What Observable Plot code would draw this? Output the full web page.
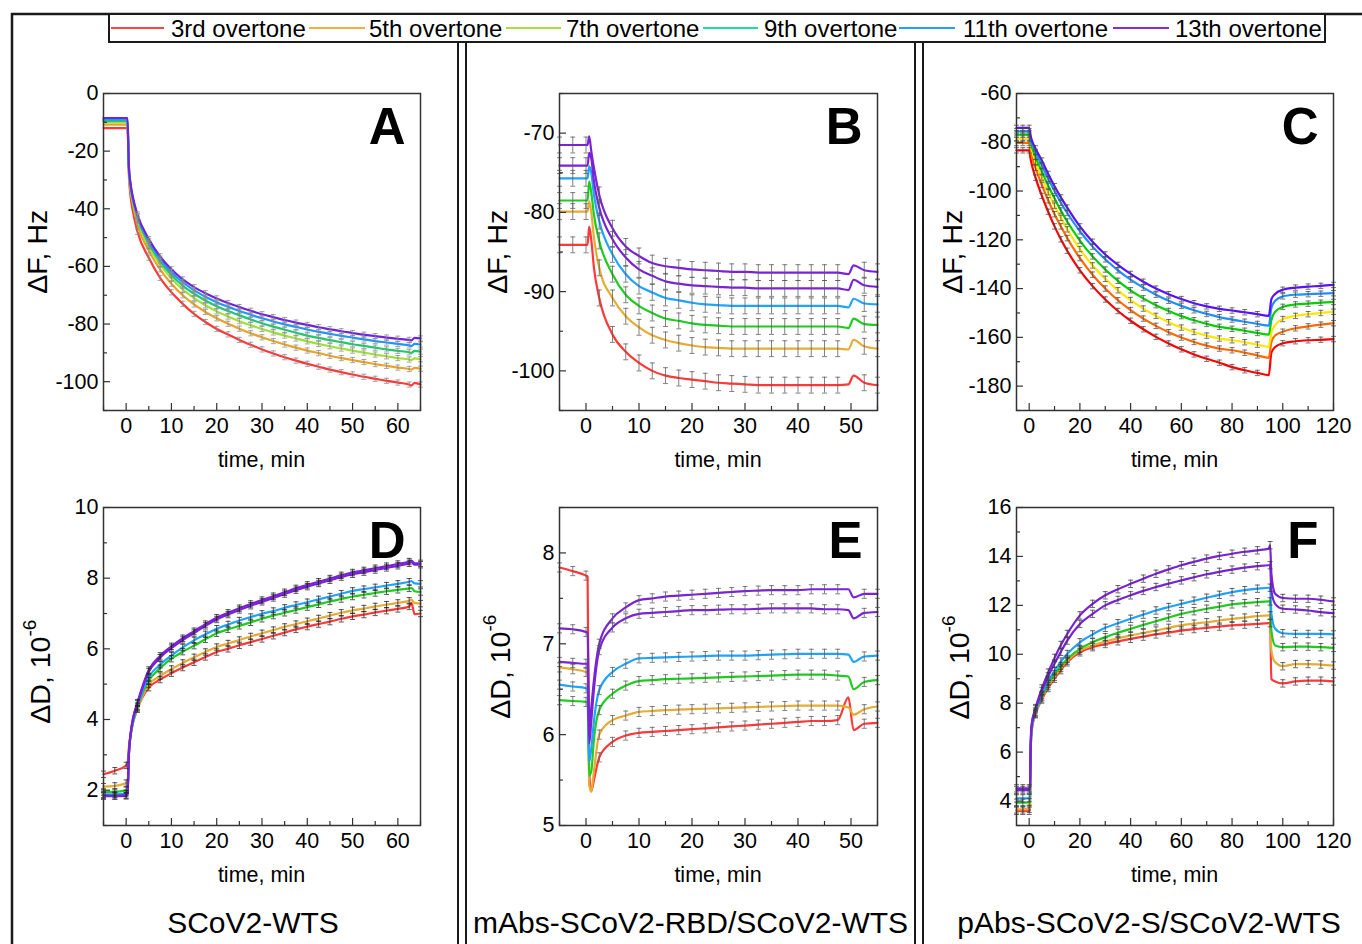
<!DOCTYPE html>
<html>
<head>
<meta charset="utf-8">
<script src="https://cdn.jsdelivr.net/npm/d3@7"></script>
<script src="https://cdn.jsdelivr.net/npm/@observablehq/plot@0.6"></script>
<style>
html,body{margin:0;padding:0;background:#fff;}
#fig{position:relative;width:1362px;height:944px;overflow:hidden;background:#fff;}
#overlay{position:absolute;left:0;top:0;pointer-events:none;}
</style>
</head>
<body>
<div id="fig"></div>
<script>
// ---------------- DATA ----------------
const overtones = ["3rd overtone","5th overtone","7th overtone","9th overtone","11th overtone","13th overtone"];
const columnTitles = ["SCoV2-WTS","mAbs-SCoV2-RBD/SCoV2-WTS","pAbs-SCoV2-S/SCoV2-WTS"];

// Panel A: ΔF (Hz) vs time (min)
const A_t  = [-5,-2.5,0,0.3,0.6,1,1.5,2.5,5,7.5,10,12.5,15,17.5,20,22.5,25,27.5,30,32.5,35,37.5,40,42.5,45,47.5,50,52.5,55,57.5,60,62.5,63,63.7,65];
const A_3  = [-12,-12,-12,-12,-28,-36,-41,-48,-57,-64,-69,-73,-76.5,-79.3,-81.7,-83.6,-85.5,-87.2,-88.8,-90.2,-91.5,-92.7,-93.8,-94.8,-95.8,-96.7,-97.5,-98.3,-99,-99.7,-100.3,-101,-101.3,-100.4,-101];
const A_5  = [-10.8,-10.8,-10.8,-10.8,-27,-34,-38.5,-45.5,-54.5,-61,-66,-70,-73.2,-75.8,-78,-79.9,-81.6,-83.2,-84.6,-85.9,-87.1,-88.2,-89.2,-90.1,-91,-91.8,-92.5,-93.2,-93.9,-94.5,-95.1,-95.6,-95.8,-95.2,-95.5];
const A_7  = [-10,-10,-10,-10,-26.5,-33,-37.5,-44,-53,-59.3,-64.2,-68,-71,-73.5,-75.6,-77.4,-79,-80.4,-81.7,-82.9,-84,-85,-86,-86.9,-87.7,-88.5,-89.2,-89.9,-90.6,-91.2,-91.8,-92.3,-92.5,-91.9,-92.2];
const A_9  = [-9.5,-9.5,-9.5,-9.5,-26,-32.5,-37,-43,-52,-58.2,-63,-66.7,-69.5,-71.8,-73.8,-75.5,-77,-78.4,-79.7,-80.9,-82,-83,-84,-84.8,-85.6,-86.3,-87,-87.6,-88.2,-88.8,-89.3,-89.8,-90,-89.3,-89.6];
const A_11 = [-9,-9,-9,-9,-25.5,-32,-36.5,-42.5,-51.2,-57.3,-62,-65.5,-68.3,-70.5,-72.4,-74,-75.5,-76.8,-78,-79.1,-80.1,-81,-81.9,-82.7,-83.4,-84.1,-84.7,-85.3,-85.9,-86.4,-86.9,-87.4,-87.6,-86.9,-87.1];
const A_13 = [-8.5,-8.5,-8.5,-8.5,-25,-31.5,-36,-42,-50.5,-56.5,-61,-64.5,-67.2,-69.3,-71.1,-72.7,-74.1,-75.4,-76.6,-77.6,-78.6,-79.5,-80.3,-81.1,-81.8,-82.5,-83.1,-83.7,-84.2,-84.7,-85.1,-85.5,-85.7,-84.8,-85];
const A_err = [0.9,0.9,0.9,0.9,0.9,0.9];

// Panel B: ΔF (Hz)
const B_t  = [-5,-2.5,0,0.3,0.6,1,1.5,2.5,5,7.5,10,12.5,15,17.5,20,22.5,25,27.5,30,32.5,35,37.5,40,42.5,45,47.5,49.5,50.5,52.5,55];
const B_3  = [-84.1,-84.1,-84.1,-84.1,-81.8,-83.5,-87,-90.8,-95.4,-97.6,-99,-100,-100.6,-100.9,-101.1,-101.3,-101.5,-101.6,-101.7,-101.8,-101.8,-101.8,-101.8,-101.8,-101.8,-101.8,-101.7,-100.6,-101.5,-101.8];
const B_5  = [-79.9,-79.9,-79.9,-79.9,-78.6,-80,-83.2,-87,-90.8,-93.1,-94.5,-95.5,-96.1,-96.5,-96.8,-97,-97.1,-97.2,-97.2,-97.2,-97.2,-97.2,-97.2,-97.2,-97.2,-97.2,-97.3,-96.1,-96.9,-97.2];
const B_7  = [-78.5,-78.5,-78.5,-78.5,-76.1,-77.5,-80.3,-83.6,-87.8,-90.4,-91.8,-92.7,-93.4,-93.7,-94,-94.2,-94.3,-94.4,-94.4,-94.4,-94.4,-94.4,-94.4,-94.4,-94.4,-94.4,-94.6,-93.4,-94.1,-94.2];
const B_9  = [-75.7,-75.7,-75.7,-75.7,-74.2,-75,-77.8,-81.1,-85.3,-87.8,-89.3,-90.1,-90.8,-91.1,-91.4,-91.6,-91.7,-91.8,-91.8,-91.8,-91.8,-91.8,-91.8,-91.8,-91.8,-91.8,-92,-90.9,-91.5,-91.6];
const B_11 = [-74.1,-74.1,-74.1,-74.1,-72.5,-73.2,-76.1,-79.4,-83.4,-85.7,-87.2,-88,-88.7,-89,-89.2,-89.3,-89.4,-89.5,-89.5,-89.6,-89.6,-89.6,-89.6,-89.6,-89.6,-89.6,-89.8,-88.5,-89.2,-89.4];
const B_13 = [-71.5,-71.5,-71.5,-71.5,-70.4,-72.3,-74.4,-77.8,-82,-84.3,-85.5,-86.4,-86.8,-87,-87.2,-87.3,-87.4,-87.5,-87.5,-87.6,-87.6,-87.6,-87.6,-87.6,-87.6,-87.6,-87.8,-86.7,-87.3,-87.5];
const B_err = [1.0,1.0,1.0,1.0,1.0,1.0];

// Panel C: ΔF (Hz)
const C_t  = [-5,-2.5,0,0.5,1,2.5,5,7.5,10,12.5,15,20,25,30,35,40,45,50,55,60,65,70,75,80,85,90,94.5,95.5,97,100,105,110,115,120];
const C_3  = [-83.3,-83.3,-83.3,-86.5,-89,-94.5,-102,-108.5,-114.5,-119.8,-124.5,-132.5,-139,-144.5,-149.2,-153.2,-156.7,-159.8,-162.5,-164.9,-167,-168.8,-170.4,-172.2,-173.5,-174.6,-175.5,-166.3,-164,-162.4,-161.6,-161.2,-161,-160.7];
const C_5  = [-80.3,-80.3,-80.3,-83,-85.5,-90.5,-97.5,-103.8,-109.5,-114.5,-119.3,-127.5,-134.3,-140,-144.8,-148.8,-152.3,-155.3,-157.9,-160.1,-161.9,-163.4,-164.6,-165.3,-166.3,-167.4,-168.4,-162,-159.2,-157.7,-156.3,-155.5,-154.8,-154.2];
const C_7  = [-78.5,-78.5,-78.5,-81,-83,-88,-94.5,-100.5,-106,-111,-115.7,-123.8,-130.5,-136,-140.7,-144.7,-148.2,-151.2,-153.8,-156,-157.8,-159.3,-160.5,-161.2,-162,-163,-163.9,-158,-155,-152.5,-151.2,-150.5,-150,-149.5];
const C_9  = [-76.9,-76.9,-76.9,-79.5,-81.5,-86,-92,-97.8,-103,-108,-112.5,-120.3,-126.8,-132.2,-136.8,-140.7,-144,-146.8,-149.2,-151.3,-153,-154.5,-155.7,-156.5,-157.3,-158.2,-158.9,-153,-149.5,-147.5,-146.5,-146.2,-145.8,-145.5];
const C_11 = [-75.5,-75.5,-75.5,-78,-80,-84,-89.5,-95,-100,-104.8,-109,-116.5,-122.8,-128,-132.5,-136.3,-139.6,-142.5,-145,-147.1,-148.9,-150.4,-151.7,-152.7,-153.6,-154.5,-155.2,-148,-145,-143.2,-142.5,-142.3,-142.1,-141.9];
const C_13 = [-74.1,-74.1,-74.1,-77,-79,-82.5,-87.5,-93,-98,-102.6,-106.8,-114.5,-120.8,-126,-130.3,-134,-137.2,-140,-142.3,-144.3,-146,-147.3,-148.3,-149,-149.7,-150.5,-151.2,-144.4,-142.2,-140.5,-139.6,-139.2,-138.9,-138.5];
const C_err = [1.1,1.1,1.1,1.1,1.1,1.1];

// Panel D: ΔD (1e-6)
const D_t  = A_t;
const D_3  = [2.45,2.55,2.7,2.75,3.2,3.6,3.9,4.3,4.9,5.13,5.31,5.47,5.62,5.77,5.91,6.0,6.1,6.19,6.28,6.37,6.46,6.55,6.63,6.7,6.77,6.85,6.92,6.97,7.03,7.08,7.13,7.2,7.3,6.98,7.0];
const D_5  = [2.1,2.12,2.2,2.22,3.1,3.55,3.9,4.3,4.99,5.23,5.43,5.6,5.76,5.91,6.05,6.15,6.25,6.35,6.44,6.53,6.62,6.7,6.78,6.86,6.94,7.02,7.09,7.14,7.2,7.25,7.3,7.36,7.39,7.3,7.28];
const D_7  = [1.95,1.95,2.0,2.02,3.05,3.55,3.92,4.35,5.1,5.45,5.72,5.92,6.09,6.27,6.44,6.55,6.65,6.75,6.85,6.94,7.02,7.1,7.18,7.26,7.34,7.41,7.48,7.53,7.58,7.63,7.67,7.71,7.72,7.63,7.61];
const D_9  = [1.88,1.88,1.9,1.92,3.0,3.55,3.93,4.38,5.2,5.55,5.81,6.04,6.24,6.41,6.57,6.69,6.8,6.9,6.99,7.07,7.16,7.24,7.32,7.4,7.48,7.56,7.64,7.69,7.74,7.79,7.84,7.9,7.92,7.85,7.84];
const D_11 = [1.85,1.84,1.85,1.87,3.0,3.6,4.0,4.45,5.35,5.75,6.02,6.25,6.45,6.65,6.83,6.97,7.1,7.22,7.33,7.44,7.55,7.66,7.76,7.85,7.94,8.03,8.11,8.17,8.23,8.29,8.35,8.42,8.45,8.38,8.38];
const D_13 = [1.83,1.83,1.84,1.86,3.0,3.62,4.03,4.48,5.4,5.8,6.07,6.3,6.5,6.7,6.88,7.02,7.15,7.27,7.38,7.49,7.6,7.71,7.81,7.9,7.99,8.08,8.16,8.22,8.28,8.34,8.4,8.47,8.5,8.42,8.42];
const D_err = [0.09,0.09,0.09,0.09,0.09,0.09];

// Panel E: ΔD (1e-6)
const E_t  = B_t;
const E_3  = [7.84,7.8,7.75,7.74,5.6,5.38,5.5,5.75,5.92,5.99,6.02,6.03,6.04,6.05,6.06,6.07,6.08,6.09,6.1,6.11,6.12,6.13,6.14,6.15,6.15,6.16,6.41,6.05,6.12,6.13];
const E_5  = [6.74,6.72,6.69,6.68,5.45,5.37,5.6,6.0,6.16,6.21,6.25,6.26,6.27,6.275,6.28,6.285,6.29,6.295,6.3,6.305,6.31,6.315,6.32,6.32,6.32,6.32,6.3,6.22,6.28,6.31];
const E_7  = [6.38,6.37,6.36,6.35,5.55,5.6,5.95,6.27,6.45,6.54,6.59,6.6,6.61,6.615,6.62,6.625,6.63,6.635,6.64,6.645,6.65,6.655,6.66,6.66,6.66,6.65,6.64,6.5,6.58,6.6];
const E_9  = [6.55,6.53,6.51,6.5,5.7,5.85,6.15,6.49,6.69,6.78,6.84,6.845,6.85,6.855,6.86,6.865,6.87,6.87,6.87,6.875,6.88,6.885,6.89,6.89,6.89,6.89,6.88,6.8,6.86,6.87];
const E_11 = [6.8,6.79,6.78,6.78,5.9,6.15,6.5,6.93,7.18,7.28,7.33,7.34,7.35,7.36,7.37,7.37,7.375,7.38,7.38,7.385,7.39,7.39,7.39,7.39,7.38,7.38,7.37,7.28,7.34,7.35];
const E_13 = [7.17,7.16,7.13,7.12,6.05,6.3,6.6,7.0,7.28,7.4,7.48,7.5,7.52,7.53,7.54,7.55,7.56,7.57,7.58,7.585,7.59,7.59,7.59,7.6,7.6,7.6,7.6,7.51,7.55,7.55];
const E_err = [0.05,0.05,0.05,0.05,0.05,0.05];

// Panel F: ΔD (1e-6)
const F_t  = [-5,-2.5,0,0.3,0.6,1,2.5,5,7.5,10,12.5,15,20,25,30,35,40,45,50,55,60,65,70,75,80,85,90,94.5,95,95.5,97,100,105,110,115,120];
const F_3  = [3.6,3.6,3.6,3.62,6.0,6.9,7.55,8.15,8.62,9.0,9.35,9.67,10.08,10.29,10.42,10.53,10.63,10.72,10.81,10.89,10.97,11.03,11.08,11.13,11.18,11.21,11.24,11.27,11.27,8.99,8.89,8.81,8.89,8.92,8.92,8.89];
const F_5  = [3.66,3.66,3.68,3.7,6.0,6.9,7.58,8.2,8.7,9.08,9.44,9.74,10.15,10.36,10.52,10.65,10.77,10.87,10.97,11.08,11.18,11.25,11.31,11.38,11.45,11.5,11.56,11.59,11.59,10.15,9.67,9.51,9.6,9.6,9.58,9.54];
const F_7  = [3.93,3.93,3.95,3.96,6.1,6.95,7.62,8.27,8.78,9.18,9.52,9.81,10.22,10.49,10.7,10.88,11.04,11.2,11.35,11.5,11.65,11.76,11.86,11.95,12.04,12.09,12.13,12.16,12.16,10.97,10.36,10.29,10.31,10.31,10.29,10.26];
const F_9  = [4.11,4.11,4.12,4.13,6.2,7.0,7.66,8.33,8.88,9.32,9.7,10.01,10.49,10.81,11.08,11.27,11.45,11.62,11.79,11.93,12.06,12.19,12.31,12.43,12.54,12.62,12.68,12.72,12.72,11.65,11.04,10.86,10.83,10.83,10.83,10.81];
const F_11 = [4.45,4.45,4.46,4.47,6.3,7.1,7.75,8.5,9.1,9.62,10.1,10.56,11.24,11.65,12.0,12.22,12.41,12.59,12.75,12.89,13.02,13.15,13.27,13.37,13.46,13.54,13.6,13.64,13.64,12.6,12.06,11.86,11.83,11.79,11.72,11.68];
const F_13 = [4.52,4.52,4.52,4.53,6.35,7.15,7.8,8.6,9.25,9.85,10.38,10.83,11.59,12.06,12.41,12.66,12.88,13.09,13.29,13.47,13.64,13.78,13.91,14.02,14.11,14.19,14.25,14.32,14.46,13.3,12.47,12.3,12.27,12.27,12.23,12.16];
const F_err = [0.15,0.15,0.15,0.15,0.15,0.15];

// Tick values
const xTicks60 = [0,10,20,30,40,50,60], xMinor60 = [-5,5,15,25,35,45,55,65];
const xTicks50 = [0,10,20,30,40,50],    xMinor50 = [-5,5,15,25,35,45,55];
const xTicks120 = [0,20,40,60,80,100,120], xMinor120 = [10,30,50,70,90,110];
const yTicksA = [0,-20,-40,-60,-80,-100], yMinorA = [-10,-30,-50,-70,-90,-110];
const yTicksB = [-70,-80,-90,-100], yMinorB = [-65,-75,-85,-95,-105];
const yTicksC = [-60,-80,-100,-120,-140,-160,-180], yMinorC = [-70,-90,-110,-130,-150,-170,-190];
const yTicksD = [2,4,6,8,10], yMinorD = [1,3,5,7,9];
const yTicksE = [5,6,7,8], yMinorE = [5.5,6.5,7.5,8.5];
const yTicksF = [4,6,8,10,12,14,16], yMinorF = [3,5,7,9,11,13,15];

// ---------------- STYLE ----------------
const FONT = "'Liberation Sans', Arial, Helvetica, sans-serif";
const legendColors = ["#ff4444","#f0b040","#a6e040","#22dc9e","#22a0ff","#7e2ee0"];
const colA = ["#ff3838","#e8a428","#9ee03a","#1ec86e","#1e96ff","#7222dc"];
const colB = ["#ff3838","#e6ac34","#1ecc1e","#1ea4ff","#7a22d6","#7a22d6"];
const colC = ["#ff0000","#ff6a00","#ffe600","#00d000","#1e8fff","#5a10ff"];

const panels = [
  {id:"A", box:[103,420,93,410],  t:A_t, s:[A_3,A_5,A_7,A_9,A_11,A_13], err:A_err, col:colA, xd:[-5,65], yd:[-110,0], xt:xTicks60, xm:xMinor60, yt:yTicksA, ym:yMinorA, ebFrom:2.5, eb:"#8a8a8a"},
  {id:"B", box:[559,877,93,410],  t:B_t, s:[B_3,B_5,B_7,B_9,B_11,B_13], err:B_err, col:colB, xd:[-5,55], yd:[-105,-65], xt:xTicks50, xm:xMinor50, yt:yTicksB, ym:yMinorB, ebFrom:-5, eb:"#5a5a5a"},
  {id:"C", box:[1016,1333,93,410],t:C_t, s:[C_3,C_5,C_7,C_9,C_11,C_13], err:C_err, col:colC, xd:[-5,120], yd:[-190,-60], xt:xTicks120, xm:xMinor120, yt:yTicksC, ym:yMinorC, ebFrom:-5, eb:"#4a4a4a"},
  {id:"D", box:[103,420,507,825], t:D_t, s:[D_3,D_5,D_7,D_9,D_11,D_13], err:D_err, col:colB, xd:[-5,65], yd:[1,10], xt:xTicks60, xm:xMinor60, yt:yTicksD, ym:yMinorD, ebFrom:-5, eb:"#222"},
  {id:"E", box:[559,877,507,825], t:E_t, s:[E_3,E_5,E_7,E_9,E_11,E_13], err:E_err, col:colB, xd:[-5,55], yd:[5,8.5], xt:xTicks50, xm:xMinor50, yt:yTicksE, ym:yMinorE, ebFrom:-5, eb:"#5a5a5a"},
  {id:"F", box:[1016,1333,507,825],t:F_t, s:[F_3,F_5,F_7,F_9,F_11,F_13], err:F_err, col:colB, xd:[-5,120], yd:[3,16], xt:xTicks120, xm:xMinor120, yt:yTicksF, ym:yMinorF, ebFrom:-5, eb:"#3a3a3a"}
];

const fig = document.getElementById("fig");
const capSymbol = {draw(ctx, size){ const r = Math.sqrt(size/Math.PI); ctx.moveTo(-r,0); ctx.lineTo(r,0); }};
const onGrid = t => Math.abs(t/2.5 - Math.round(t/2.5)) < 1e-6;

for (const p of panels) {
  const [x0,x1,y0,y1] = p.box;
  const W = x1-x0, H = y1-y0;
  const mL = 82, mR = 40, mT = 12, mB = 40;
  const marks = [];
  const eb = [];
  p.s.forEach((vals,k) => {
    const rows = p.t.map((t,i) => ({t, v: vals[i]}));
    marks.push(Plot.line(rows, {x:"t", y:"v", stroke:p.col[k], strokeWidth:2.2, curve:"monotone-x"}));
    rows.forEach(r => { if (onGrid(r.t) && r.t >= p.ebFrom) eb.push({t:r.t, lo:r.v - p.err[k], hi:r.v + p.err[k]}); });
  });
  marks.push(Plot.ruleX(eb, {x:"t", y1:"lo", y2:"hi", stroke:p.eb, strokeWidth:0.9, strokeOpacity:0.85}));
  marks.push(Plot.dot(eb, {x:"t", y:"lo", symbol:capSymbol, r:2.5, stroke:p.eb, fill:"none", strokeWidth:0.9, strokeOpacity:0.85}));
  marks.push(Plot.dot(eb, {x:"t", y:"hi", symbol:capSymbol, r:2.5, stroke:p.eb, fill:"none", strokeWidth:0.9, strokeOpacity:0.85}));
  // inward ticks
  marks.push(Plot.tickX(p.xt, {x:d=>d, insetTop:H-7, stroke:"#333", strokeWidth:1.2}));
  marks.push(Plot.tickX(p.xm, {x:d=>d, insetTop:H-4, stroke:"#333", strokeWidth:1.2}));
  marks.push(Plot.tickY(p.yt, {y:d=>d, insetRight:W-7, stroke:"#333", strokeWidth:1.2}));
  marks.push(Plot.tickY(p.ym, {y:d=>d, insetRight:W-4, stroke:"#333", strokeWidth:1.2}));
  marks.push(Plot.frame({stroke:"#333", strokeWidth:1.5}));
  marks.push(Plot.text([p.id], {text:d=>d, frameAnchor:"top-right", dx:-15, dy:14, lineAnchor:"top", textAnchor:"end", fontSize:51, fontWeight:"bold", fill:"#000"}));
  const svg = Plot.plot({
    width: W+mL+mR, height: H+mT+mB,
    marginLeft:mL, marginRight:mR, marginTop:mT, marginBottom:mB,
    style:{fontFamily:FONT, fontSize:"21.5px", color:"#000", background:"transparent", overflow:"visible"},
    x:{domain:p.xd, ticks:p.xt, tickSize:0, tickPadding:7, label:null, tickFormat:d=>String(d)},
    y:{domain:p.yd, ticks:p.yt, tickSize:0, tickPadding:5, label:null, tickFormat:d=>String(d)},
    marks
  });
  svg.style.position = "absolute";
  svg.style.left = (x0-mL)+"px";
  svg.style.top = (y0-mT)+"px";
  fig.appendChild(svg);
}

// ---------------- OVERLAY: borders, legend, labels ----------------
const ov = d3.select(fig).append("svg").attr("id","overlay").attr("width",1362).attr("height",944)
  .style("font-family", FONT);
const border = "#1a1a1a";
ov.append("line").attr("x1",11).attr("x2",1362).attr("y1",14).attr("y2",14).attr("stroke",border).attr("stroke-width",2.5);
ov.append("line").attr("x1",12).attr("x2",12).attr("y1",13).attr("y2",944).attr("stroke",border).attr("stroke-width",2.5);
for (const x of [458,466,915,923]) ov.append("line").attr("x1",x).attr("x2",x).attr("y1",42).attr("y2",944).attr("stroke",border).attr("stroke-width",2);

// legend
ov.append("rect").attr("x",109).attr("y",14).attr("width",1216).attr("height",28).attr("fill","#fff").attr("stroke",border).attr("stroke-width",2);
const legLine = [[111,164],[309,365],[506,561],[703,758],[899,955],[1113,1169]];
const legText = [171,369,566,764,963,1175];
overtones.forEach((name,i) => {
  ov.append("line").attr("x1",legLine[i][0]).attr("x2",legLine[i][1]).attr("y1",28).attr("y2",28).attr("stroke",legendColors[i]).attr("stroke-width",2);
  ov.append("text").attr("x",legText[i]).attr("y",36.5).attr("font-size",24).attr("fill","#000").text(name);
});

// axis labels
const yLab = [
  {x:46.7, y:251.7, main:"ΔF, Hz"}, {x:506.7, y:251.7, main:"ΔF, Hz"}, {x:961.7, y:251.7, main:"ΔF, Hz"},
  {x:50, y:671.7, main:"ΔD, 10", sup:"-6"}, {x:510, y:666.7, main:"ΔD, 10", sup:"-6"}, {x:969.3, y:667.5, main:"ΔD, 10", sup:"-6"}
];
yLab.forEach(l => {
  const t = ov.append("text").attr("transform",`translate(${l.x},${l.y}) rotate(-90)`).attr("text-anchor","middle").attr("font-size",28.5).attr("fill","#000");
  t.append("tspan").text(l.main);
  if (l.sup) t.append("tspan").attr("dy",-14).attr("font-size",19).text(l.sup);
});
panels.forEach(p => {
  const [x0,x1,y0,y1] = p.box;
  ov.append("text").attr("x",(x0+x1)/2).attr("y",y1+57).attr("text-anchor","middle").attr("font-size",21.5).attr("fill","#000").text("time, min");
});
const titleX = [253, 690.5, 1149];
columnTitles.forEach((s,i) => ov.append("text").attr("x",titleX[i]).attr("y",932.7).attr("text-anchor","middle").attr("font-size",30).attr("fill","#000").text(s));
</script>
</body>
</html>
